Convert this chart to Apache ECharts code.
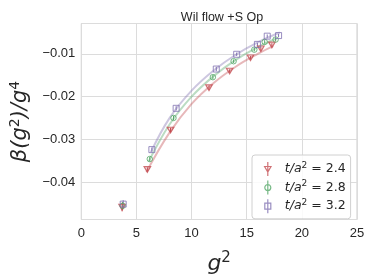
<!DOCTYPE html>
<html><head><meta charset="utf-8">
<script src="https://cdn.jsdelivr.net/npm/echarts@6/dist/echarts.min.js"></script>
<style>html,body{margin:0;padding:0;background:#fff}#c{width:374px;height:280px}</style>
</head><body><div id="c"></div>
<script>
// tick labels
const xTicks = [0, 5, 10, 15, 20, 25];
const yTicks = [-0.04, -0.03, -0.02, -0.01];

// t/a^2 = 2.4
const g2_24   = [3.70, 5.99, 8.09, 11.58, 13.45, 15.34, 16.28, 17.28];
const beta_24 = [-0.0458, -0.0370, -0.0278, -0.0179, -0.0140, -0.0109, -0.0088, -0.0079];
const err_24  = [0.0010, 0.0005, 0.0005, 0.0005, 0.0004, 0.0004, 0.0004, 0.0004];
const fitX_24 = [5.9, 8, 10, 12, 14, 16, 17.4];
const fitY_24 = [-0.0376, -0.0284, -0.0217, -0.0168, -0.0130, -0.0100, -0.0082];

// t/a^2 = 2.8
const g2_28   = [3.75, 6.21, 8.36, 11.93, 13.81, 15.69, 16.63, 17.62];
const beta_28 = [-0.0455, -0.03457, -0.02497, -0.01544, -0.01171, -0.00901, -0.0072, -0.00665];
const err_28  = [0.0009, 0.0005, 0.0005, 0.0005, 0.0004, 0.0004, 0.0004, 0.0004];
const fitX_28 = [6.1, 8, 10, 12, 14, 16, 17.7];
const fitY_28 = [-0.0352, -0.0265, -0.0200, -0.0152, -0.0114, -0.0084, -0.0064];

// t/a^2 = 3.2
const g2_32   = [3.80, 6.40, 8.60, 12.24, 14.09, 15.97, 16.86, 17.89];
const beta_32 = [-0.0451, -0.03237, -0.02272, -0.01354, -0.01009, -0.00778, -0.00586, -0.00572];
const err_32  = [0.0009, 0.0005, 0.0005, 0.0005, 0.0004, 0.0004, 0.0004, 0.0004];
const fitX_32 = [6.3, 8, 10, 12, 14, 16, 18];
const fitY_32 = [-0.0330, -0.0250, -0.0186, -0.0139, -0.0102, -0.0073, -0.0050];

const names = ['t/a2 = 2.4', 't/a2 = 2.8', 't/a2 = 3.2'];
const labels = {
  't/a2 = 2.4': '{i|t/a}{s|2}{n| = 2.4}',
  't/a2 = 2.8': '{i|t/a}{s|2}{n| = 2.8}',
  't/a2 = 3.2': '{i|t/a}{s|2}{n| = 3.2}'
};
const colors = ['#c44e52', '#55a868', '#8172b2'];

const FONT = 'Liberation Sans, Arial, sans-serif';
const MATH = 'DejaVu Sans, sans-serif';

function zip(a, b) { return a.map((v, i) => [v, b[i]]); }
function errSeries(xs, ys, es, color) {
  return {
    type: 'custom', silent: true, z: 3,
    data: xs.map((x, i) => [x, ys[i] - es[i], ys[i] + es[i]]),
    encode: { x: 0, y: [1, 2] },
    renderItem: function (p, api) {
      const a = api.coord([api.value(0), api.value(1)]);
      const b = api.coord([api.value(0), api.value(2)]);
      return { type: 'line', shape: { x1: a[0], y1: a[1], x2: b[0], y2: b[1] },
               style: { stroke: color, lineWidth: 1 } };
    }
  };
}
function fitSeries(xs, ys, color) {
  return { type: 'line', data: zip(xs, ys), smooth: 0.4, showSymbol: false, silent: true, z: 1,
           lineStyle: { color: color, width: 2, opacity: 0.4 } };
}

const triPath = 'path://M4,0 L4,14 M0.8,4.5 L7.2,4.5 L4,10 Z';
const cirPath = 'path://M4,0 L4,14 M7,7 A3,3 0 1 1 1,7 A3,3 0 1 1 7,7 Z';
const sqPath  = 'path://M4,0 L4,14 M1,4 L7,4 L7,10 L1,10 Z';

const chart = echarts.init(document.getElementById('c'), null, { renderer: 'canvas' });
chart.setOption({
  animation: false,
  backgroundColor: '#fff',
  title: {
    text: 'Wil flow +S Op', left: 217, top: 6, textAlign: 'center',
    textStyle: { fontFamily: FONT, fontSize: 12.5, fontWeight: 'normal', color: '#262626' }
  },
  grid: { left: 77, right: 17, top: 23.5, bottom: 58.3, show: true, borderColor: '#cccccc', borderWidth: 1 },
  xAxis: {
    type: 'value', min: xTicks[0], max: xTicks[xTicks.length - 1], interval: 5,
    axisLine: { show: false }, axisTick: { show: false },
    splitLine: { show: true, lineStyle: { color: '#dcdcdc', width: 1 } },
    axisLabel: { fontFamily: FONT, fontSize: 13, color: '#262626', margin: 7 },
    name: '{i|g}{s|2}', nameLocation: 'middle', nameGap: 31,
    nameTextStyle: { rich: {
      i: { fontFamily: MATH, fontStyle: 'italic', fontSize: 22, color: '#262626' },
      s: { fontFamily: MATH, fontStyle: 'normal', fontSize: 15, color: '#262626', padding: [0, 0, 12, 0] }
    } }
  },
  yAxis: {
    type: 'value', min: -0.0487, max: -0.0029, splitNumber: 5,
    axisLine: { show: false }, axisTick: { show: false },
    splitLine: { show: true, lineStyle: { color: '#dcdcdc', width: 1 } },
    axisLabel: {
      fontFamily: FONT, fontSize: 13, color: '#262626', margin: 6,
      showMinLabel: false, showMaxLabel: false,
      formatter: function (v) {
        for (const t of yTicks) if (Math.abs(v - t) < 1e-9) return String(t).replace('-', '\u2212');
        return '';
      }
    },
    name: '{i|\u03b2(g}{s|2}{i|)/g}{s|4}', nameLocation: 'middle', nameGap: 45, nameRotate: 90,
    nameTextStyle: { rich: {
      i: { fontFamily: MATH, fontStyle: 'italic', fontSize: 21, color: '#262626' },
      s: { fontFamily: MATH, fontStyle: 'normal', fontSize: 14, color: '#262626', padding: [0, 0, 12, 0] }
    } }
  },
  legend: {
    orient: 'vertical', left: 252, top: 155,
    backgroundColor: 'rgba(255,255,255,0.85)', borderColor: '#d0d0d0', borderWidth: 1, borderRadius: 3,
    padding: [6, 5, 5, 12], itemGap: 3, itemWidth: 8, itemHeight: 14,
    data: [
      { name: names[0], icon: triPath, itemStyle: { color: 'rgba(0,0,0,0)', borderColor: colors[0], borderWidth: 1.2 } },
      { name: names[1], icon: cirPath, itemStyle: { color: 'rgba(0,0,0,0)', borderColor: colors[1], borderWidth: 1.2 } },
      { name: names[2], icon: sqPath, itemStyle: { color: 'rgba(0,0,0,0)', borderColor: colors[2], borderWidth: 1.2 } }
    ],
    formatter: function (n) { return labels[n]; },
    textStyle: {
      rich: {
        i: { fontFamily: MATH, fontStyle: 'italic', fontSize: 12.5, color: '#262626', padding: [0, 0, 0, 8] },
        s: { fontFamily: MATH, fontSize: 9, color: '#262626', padding: [0, 0, 7, 0] },
        n: { fontFamily: MATH, fontSize: 12.5, color: '#262626' }
      }
    }
  },
  series: [
    fitSeries(fitX_24, fitY_24, colors[0]),
    fitSeries(fitX_28, fitY_28, colors[1]),
    fitSeries(fitX_32, fitY_32, colors[2]),
    errSeries(g2_24, beta_24, err_24, colors[0]),
    errSeries(g2_28, beta_28, err_28, colors[1]),
    errSeries(g2_32, beta_32, err_32, colors[2]),
    { name: names[0], type: 'scatter', data: zip(g2_24, beta_24), symbol: 'path://M0,0 L10,0 L5,8.66 Z',
      symbolSize: [6.5, 5.6], z: 4,
      itemStyle: { color: 'rgba(196,78,82,0.15)', borderColor: colors[0], borderWidth: 1.2 } },
    { name: names[1], type: 'scatter', data: zip(g2_28, beta_28), symbol: 'circle', symbolSize: 5.5, z: 4,
      itemStyle: { color: 'rgba(0,0,0,0)', borderColor: colors[1], borderWidth: 1 } },
    { name: names[2], type: 'scatter', data: zip(g2_32, beta_32), symbol: 'rect', symbolSize: 6, z: 4,
      itemStyle: { color: 'rgba(0,0,0,0)', borderColor: colors[2], borderWidth: 1 } }
  ]
});
</script>
</body></html>
